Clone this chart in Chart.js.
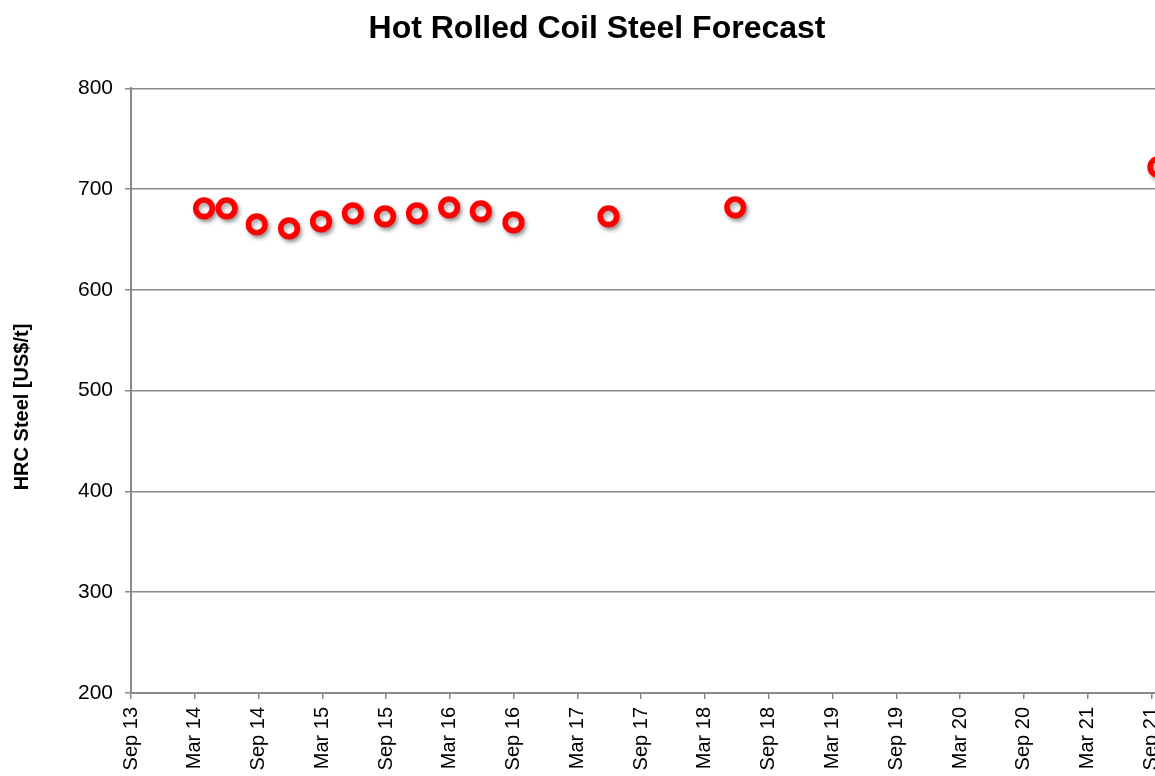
<!DOCTYPE html>
<html>
<head>
<meta charset="utf-8">
<script src="https://cdn.jsdelivr.net/npm/chart.js@4/dist/chart.umd.min.js"></script>
<style>
  html, body { margin: 0; padding: 0; background: #fff; overflow: hidden; }
  #wrap { width: 1194px; height: 776px; }
</style>
</head>
<body>
<div id="wrap"><canvas id="c" width="1194" height="776"></canvas></div>
<script>
// Months elapsed since Sep 2013 (x position of each observation)
const monthsSinceSep13 = [6.87, 9.0, 11.83, 14.87, 17.88, 20.87, 23.9, 26.9, 29.93, 32.91, 35.98, 44.92, 56.85, 96.66];
// HRC steel price, US$/t
const hrcPrice = [681, 681, 665, 661, 668, 676, 673, 676, 682, 678, 667, 673, 682, 722];
// X-axis tick positions (months since Sep 2013) and labels
const xTickValues = [0, 6, 12, 18, 24, 30, 36, 42, 48, 54, 60, 66, 72, 78, 84, 90, 96];
const xTickLabels = ["Sep 13", "Mar 14", "Sep 14", "Mar 15", "Sep 15", "Mar 16", "Sep 16", "Mar 17", "Sep 17",
                     "Mar 18", "Sep 18", "Mar 19", "Sep 19", "Mar 20", "Sep 20", "Mar 21", "Sep 21"];
const yTickValues = [200, 300, 400, 500, 600, 700, 800];

const FONT = "'Liberation Sans', Arial, sans-serif";
const GRID = '#8a8a8a';

const shadowPlugin = {
  id: 'pointShadow',
  beforeDatasetDraw(chart) {
    const ctx = chart.ctx;
    ctx.save();
    ctx.shadowColor = 'rgba(0,0,0,0.35)';
    ctx.shadowBlur = 4;
    ctx.shadowOffsetX = 2;
    ctx.shadowOffsetY = 3;
  },
  afterDatasetDraw(chart) {
    chart.ctx.restore();
  }
};

const yTitlePlugin = {
  id: 'yTitle',
  afterDraw(chart) {
    const ctx = chart.ctx;
    ctx.save();
    ctx.translate(22, 407);
    ctx.rotate(-Math.PI / 2);
    ctx.font = "bold 20px " + FONT;
    ctx.fillStyle = '#000';
    ctx.textAlign = 'center';
    ctx.textBaseline = 'middle';
    ctx.fillText('HRC Steel [US$/t]', 0, 0);
    ctx.restore();
  }
};

new Chart(document.getElementById('c'), {
  type: 'scatter',
  data: {
    datasets: [{
      label: 'HRC Steel',
      data: monthsSinceSep13.map((m, i) => ({ x: m, y: hrcPrice[i] })),
      pointRadius: 8.3,
      pointHoverRadius: 8.3,
      pointBorderWidth: 5.6,
      pointBorderColor: '#ff0000',
      pointBackgroundColor: '#ffffff',
      showLine: false,
      clip: false
    }]
  },
  options: {
    responsive: false,
    animation: false,
    events: [],
    layout: { padding: { left: 0, right: 0, top: 0, bottom: 0 } },
    plugins: {
      legend: { display: false },
      tooltip: { enabled: false },
      title: {
        display: true,
        text: 'Hot Rolled Coil Steel Forecast',
        color: '#000',
        font: { family: FONT, size: 32, weight: 'bold' },
        padding: { top: 10, bottom: 40 }
      }
    },
    scales: {
      x: {
        type: 'linear',
        min: 0,
        max: 98.7,
        afterBuildTicks: (scale) => { scale.ticks = xTickValues.map(v => ({ value: v })); },
        afterFit: (scale) => { scale.height = 83; },
        ticks: {
          autoSkip: false,
          minRotation: 90,
          maxRotation: 90,
          padding: 8,
          color: '#000',
          font: { family: FONT, size: 20 },
          callback: (v) => { const i = xTickValues.indexOf(v); return i >= 0 ? xTickLabels[i] : ''; }
        },
        grid: {
          drawOnChartArea: false,
          drawTicks: true,
          tickLength: 6,
          color: GRID,
          lineWidth: 1.5
        },
        border: { display: true, color: GRID, width: 2 }
      },
      y: {
        type: 'linear',
        min: 200,
        max: 800,
        afterBuildTicks: (scale) => { scale.ticks = yTickValues.map(v => ({ value: v })); },
        afterFit: (scale) => { scale.width = 131; },
        ticks: {
          padding: 12,
          color: '#000',
          font: { family: FONT, size: 21 }
        },
        grid: {
          drawOnChartArea: true,
          drawTicks: true,
          tickLength: 6,
          color: GRID,
          lineWidth: 1.5
        },
        border: { display: true, color: GRID, width: 2 }
      }
    }
  },
  plugins: [shadowPlugin, yTitlePlugin]
});
</script>
</body>
</html>
